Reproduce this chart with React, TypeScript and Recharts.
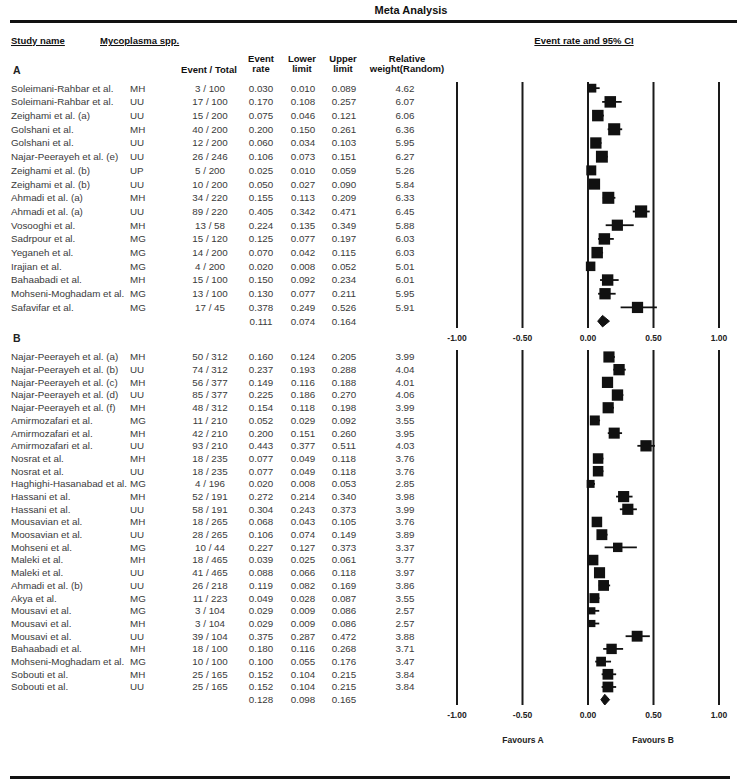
import React from 'react';
import { ComposedChart, Scatter, XAxis, YAxis, ReferenceLine, ErrorBar } from 'recharts';

const FONT = '"Liberation Sans", Arial, sans-serif';
const TICKS = [-1, -0.5, 0, 0.5, 1];

// ---- Subgroup A ----
const namesA = [
  'Soleimani-Rahbar et al.', 'Soleimani-Rahbar et al.', 'Zeighami et al. (a)', 'Golshani et al.',
  'Golshani et al.', 'Najar-Peerayeh et al. (e)', 'Zeighami et al. (b)', 'Zeighami et al. (b)',
  'Ahmadi et al. (a)', 'Ahmadi et al. (a)', 'Vosooghi et al.', 'Sadrpour et al.', 'Yeganeh et al.',
  'Irajian et al.', 'Bahaabadi et al.', 'Mohseni-Moghadam et al.', 'Safavifar et al.',
];
const speciesA = ['MH', 'UU', 'UU', 'MH', 'UU', 'UU', 'UP', 'UU', 'MH', 'UU', 'MH', 'MG', 'MG', 'MG', 'MH', 'MG', 'MG'];
const eventsA = [
  '3 / 100', '17 / 100', '15 / 200', '40 / 200', '12 / 200', '26 / 246', '5 / 200', '10 / 200',
  '34 / 220', '89 / 220', '13 / 58', '15 / 120', '14 / 200', '4 / 200', '15 / 100', '13 / 100', '17 / 45',
];
const rateA = [0.03, 0.17, 0.075, 0.2, 0.06, 0.106, 0.025, 0.05, 0.155, 0.405, 0.224, 0.125, 0.07, 0.02, 0.15, 0.13, 0.378];
const lowerA = [0.01, 0.108, 0.046, 0.15, 0.034, 0.073, 0.01, 0.027, 0.113, 0.342, 0.135, 0.077, 0.042, 0.008, 0.092, 0.077, 0.249];
const upperA = [0.089, 0.257, 0.121, 0.261, 0.103, 0.151, 0.059, 0.09, 0.209, 0.471, 0.349, 0.197, 0.115, 0.052, 0.234, 0.211, 0.526];
const weightA = [4.62, 6.07, 6.06, 6.36, 5.95, 6.27, 5.26, 5.84, 6.33, 6.45, 5.88, 6.03, 6.03, 5.01, 6.01, 5.95, 5.91];
const summaryA = [0.111, 0.074, 0.164];

// ---- Subgroup B ----
const namesB = [
  'Najar-Peerayeh et al. (a)', 'Najar-Peerayeh et al. (b)', 'Najar-Peerayeh et al. (c)', 'Najar-Peerayeh et al. (d)',
  'Najar-Peerayeh et al. (f)', 'Amirmozafari et al.', 'Amirmozafari et al.', 'Amirmozafari et al.',
  'Nosrat et al.', 'Nosrat et al.', 'Haghighi-Hasanabad et al.', 'Hassani et al.', 'Hassani et al.',
  'Mousavian et al.', 'Moosavian et al.', 'Mohseni et al.', 'Maleki et al.', 'Maleki et al.',
  'Ahmadi et al. (b)', 'Akya et al.', 'Mousavi et al.', 'Mousavi et al.', 'Mousavi et al.',
  'Bahaabadi et al.', 'Mohseni-Moghadam et al.', 'Sobouti et al.', 'Sobouti et al.',
];
const speciesB = [
  'MH', 'UU', 'MH', 'UU', 'MH', 'MG', 'MH', 'UU', 'MH', 'UU', 'MG', 'MH', 'UU', 'MH',
  'UU', 'MG', 'MH', 'UU', 'UU', 'MG', 'MG', 'MH', 'UU', 'MH', 'MG', 'MH', 'UU',
];
const eventsB = [
  '50 / 312', '74 / 312', '56 / 377', '85 / 377', '48 / 312', '11 / 210', '42 / 210', '93 / 210',
  '18 / 235', '18 / 235', '4 / 196', '52 / 191', '58 / 191', '18 / 265', '28 / 265', '10 / 44',
  '18 / 465', '41 / 465', '26 / 218', '11 / 223', '3 / 104', '3 / 104', '39 / 104', '18 / 100',
  '10 / 100', '25 / 165', '25 / 165',
];
const rateB = [
  0.16, 0.237, 0.149, 0.225, 0.154, 0.052, 0.2, 0.443, 0.077, 0.077, 0.02, 0.272, 0.304, 0.068,
  0.106, 0.227, 0.039, 0.088, 0.119, 0.049, 0.029, 0.029, 0.375, 0.18, 0.1, 0.152, 0.152,
];
const lowerB = [
  0.124, 0.193, 0.116, 0.186, 0.118, 0.029, 0.151, 0.377, 0.049, 0.049, 0.008, 0.214, 0.243, 0.043,
  0.074, 0.127, 0.025, 0.066, 0.082, 0.028, 0.009, 0.009, 0.287, 0.116, 0.055, 0.104, 0.104,
];
const upperB = [
  0.205, 0.288, 0.188, 0.27, 0.198, 0.092, 0.26, 0.511, 0.118, 0.118, 0.053, 0.34, 0.373, 0.105,
  0.149, 0.373, 0.061, 0.118, 0.169, 0.087, 0.086, 0.086, 0.472, 0.268, 0.176, 0.215, 0.215,
];
const weightB = [
  3.99, 4.04, 4.01, 4.06, 3.99, 3.55, 3.95, 4.03, 3.76, 3.76, 2.85, 3.98, 3.99, 3.76,
  3.89, 3.37, 3.77, 3.97, 3.86, 3.55, 2.57, 2.57, 3.88, 3.71, 3.47, 3.84, 3.84,
];
const summaryB = [0.128, 0.098, 0.165];

// text columns (px from left)
const COL = { name: 11, species: 130, events: 210, rate: 261, lower: 303, upper: 344, weight: 405 };

const buildRows = (names, species, events, rate, lower, upper, weight) =>
  names.map((name, i) => ({
    x: rate[i],
    y: i,
    name,
    species: species[i],
    events: events[i],
    rate: rate[i],
    lower: lower[i],
    upper: upper[i],
    weight: weight[i],
    err: [rate[i] - lower[i], upper[i] - rate[i]],
  }));

const rowsA = buildRows(namesA, speciesA, eventsA, rateA, lowerA, upperA, weightA);
const rowsB = buildRows(namesB, speciesB, eventsB, rateB, lowerB, upperB, weightB);

const renderLabel = (props: any) => {
  const { cy, payload: p } = props;
  return (
    <g fontFamily={FONT} fontSize={9.8} fill="#3a3a3a">
      {p.name && <text x={COL.name} y={cy} dy="0.35em">{p.name}</text>}
      {p.species && <text x={COL.species} y={cy} dy="0.35em">{p.species}</text>}
      {p.events && <text x={COL.events} y={cy} dy="0.35em" textAnchor="middle">{p.events}</text>}
      <text x={COL.rate} y={cy} dy="0.35em" textAnchor="middle">{p.rate.toFixed(3)}</text>
      <text x={COL.lower} y={cy} dy="0.35em" textAnchor="middle">{p.lower.toFixed(3)}</text>
      <text x={COL.upper} y={cy} dy="0.35em" textAnchor="middle">{p.upper.toFixed(3)}</text>
      {p.weight != null && (
        <text x={COL.weight} y={cy} dy="0.35em" textAnchor="middle">{p.weight.toFixed(2)}</text>
      )}
    </g>
  );
};

const ForestPanel = ({ rows, summary, height, margin, yDomain, boxScale }) => {
  const sumRow = rows.length;
  const labelRows = [
    ...rows,
    { x: summary[0], y: sumRow, name: '', species: '', events: '', rate: summary[0], lower: summary[1], upper: summary[2], weight: null },
  ];
  // diamond vertices: lower, top, upper, bottom
  const diamond = [
    { x: summary[1], y: sumRow },
    { x: summary[0], y: sumRow - 0.42 },
    { x: summary[2], y: sumRow },
    { x: summary[0], y: sumRow + 0.42 },
  ];

  const renderBox = (props: any) => {
    const { cx, cy, payload } = props;
    const side = payload.weight * boxScale;
    return <rect x={cx - side / 2} y={cy - side / 2} width={side} height={side} fill="#111" />;
  };

  const renderDiamond = (props: any) => {
    const pts = props.points || [];
    if (pts.length < 4) return <g />;
    const d = `M${pts[0].x},${pts[0].y} L${pts[1].x},${pts[1].y} L${pts[2].x},${pts[2].y} L${pts[3].x},${pts[3].y} Z`;
    return <path d={d} fill="#111" stroke="#111" strokeWidth={1} />;
  };

  return (
    <ComposedChart width={737} height={height} margin={margin}>
      <XAxis
        type="number"
        dataKey="x"
        domain={[-1, 1]}
        ticks={TICKS}
        interval={0}
        axisLine={false}
        tickLine={false}
        tickSize={5}
        height={16}
        tickFormatter={(v) => v.toFixed(2)}
        tick={{ fontSize: 8.5, fontWeight: 700, fill: '#222', fontFamily: FONT }}
      />
      <YAxis type="number" dataKey="y" domain={yDomain} reversed hide />
      {TICKS.map((t) => (
        <ReferenceLine key={t} x={t} stroke="#1a1a1a" strokeWidth={2} />
      ))}
      <Scatter data={labelRows} shape={renderLabel} isAnimationActive={false} />
      <Scatter data={rows} shape={renderBox} isAnimationActive={false}>
        <ErrorBar dataKey="err" direction="x" width={0} stroke="#111" strokeWidth={1.8} isAnimationActive={false} />
      </Scatter>
      <Scatter data={diamond} line={renderDiamond} shape={() => <g />} isAnimationActive={false} />
    </ComposedChart>
  );
};

const Txt = ({ x, y, children, anchor = 'start', style = {} }: any) => (
  <div
    style={{
      position: 'absolute',
      left: x,
      top: y,
      transform: `translate(${anchor === 'middle' ? '-50%' : '0'}, -50%)`,
      whiteSpace: 'nowrap',
      lineHeight: 1.05,
      fontFamily: FONT,
      ...style,
    }}
  >
    {children}
  </div>
);

const head = { fontSize: 9.5, fontWeight: 700, color: '#111', textAlign: 'center' as const };

export default function App() {
  return (
    <div style={{ position: 'absolute', left: 0, top: 0, width: 737, height: 784, background: '#fff', overflow: 'hidden' }}>
      <div style={{ position: 'absolute', left: 0, top: 0 }}>
        <ForestPanel
          rows={rowsA}
          summary={summaryA}
          height={350}
          margin={{ top: 82, right: 18, bottom: 6, left: 457 }}
          yDomain={[-0.45, 17.5]}
          boxScale={1.9}
        />
      </div>
      <div style={{ position: 'absolute', left: 0, top: 0 }}>
        <ForestPanel
          rows={rowsB}
          summary={summaryB}
          height={730}
          margin={{ top: 350, right: 18, bottom: 9, left: 457 }}
          yDomain={[-0.55, 27.42]}
          boxScale={2.8}
        />
      </div>

      <Txt x={411} y={11} anchor="middle" style={{ fontSize: 11, fontWeight: 700, color: '#111' }}>Meta Analysis</Txt>
      <div style={{ position: 'absolute', left: 10, top: 20, width: 727, height: 2.5, background: '#111' }} />

      <Txt x={11} y={41} style={{ fontSize: 9.5, fontWeight: 700, color: '#111', textDecoration: 'underline' }}>Study name</Txt>
      <Txt x={100} y={41} style={{ fontSize: 9.5, fontWeight: 700, color: '#111', textDecoration: 'underline' }}>Mycoplasma spp.</Txt>
      <Txt x={584} y={41} anchor="middle" style={{ fontSize: 9.5, fontWeight: 700, color: '#111', textDecoration: 'underline' }}>Event rate and 95% CI</Txt>

      <Txt x={209} y={70} anchor="middle" style={head}>Event / Total</Txt>
      <Txt x={261} y={64} anchor="middle" style={head}>Event<br />rate</Txt>
      <Txt x={302} y={64} anchor="middle" style={head}>Lower<br />limit</Txt>
      <Txt x={343} y={64} anchor="middle" style={head}>Upper<br />limit</Txt>
      <Txt x={407} y={64} anchor="middle" style={head}>Relative<br />weight(Random)</Txt>

      <Txt x={13} y={71} style={{ fontSize: 10.5, fontWeight: 700, color: '#222' }}>A</Txt>
      <Txt x={13} y={339} style={{ fontSize: 10.5, fontWeight: 700, color: '#222' }}>B</Txt>

      <Txt x={523} y={740} anchor="middle" style={{ fontSize: 8.5, fontWeight: 700, color: '#222' }}>Favours A</Txt>
      <Txt x={653} y={740} anchor="middle" style={{ fontSize: 8.5, fontWeight: 700, color: '#222' }}>Favours B</Txt>

      <div style={{ position: 'absolute', left: 10, top: 776, width: 720, height: 2.5, background: '#111' }} />
    </div>
  );
}
